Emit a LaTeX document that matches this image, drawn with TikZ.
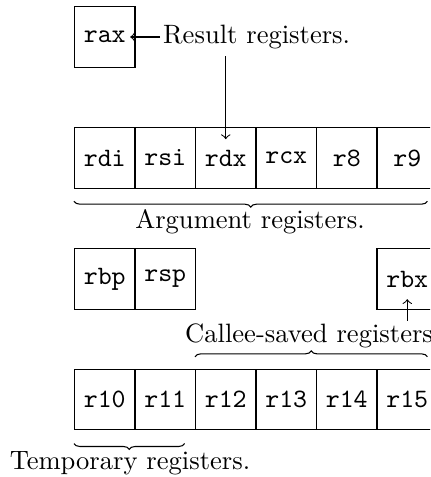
\documentclass[tikz,border=0pt]{standalone}
\usetikzlibrary{decorations.pathreplacing}
\begin{document}
\begin{tikzpicture}[x=0.013228cm, y=-0.013228cm,
  regbox/.style={draw, minimum width=0.8cm, minimum height=0.8cm, inner sep=0pt, font=\ttfamily},
  lbl/.style={inner xsep=1pt, inner ysep=1pt},
  brc/.style={decorate, decoration={brace, amplitude=2.2pt}},
  brcm/.style={decorate, decoration={brace, amplitude=2.2pt, mirror}}]
\useasboundingbox (0,0) rectangle (430,477);
\clip (0,0) rectangle (430,477);
% row 1
\node[regbox] (rax) at (104.75,37) {rax};
% row 2
\node[regbox] (rdi) at (104.75,158) {rdi};
\node[regbox] (rsi) at (165.25,158) {rsi};
\node[regbox] (rdx) at (225.75,158) {rdx};
\node[regbox] (rcx) at (286.25,158) {rcx};
\node[regbox] (r8)  at (346.75,158) {r8};
\node[regbox] (r9)  at (407.25,158) {r9};
% row 3
\node[regbox] (rbp) at (104.75,279) {rbp};
\node[regbox] (rsp) at (165.25,279) {rsp};
\node[regbox] (rbx) at (407.25,279) {rbx};
% row 4
\node[regbox] (r10) at (104.75,399.5) {r10};
\node[regbox] (r11) at (165.25,399.5) {r11};
\node[regbox] (r12) at (225.75,399.5) {r12};
\node[regbox] (r13) at (286.25,399.5) {r13};
\node[regbox] (r14) at (346.75,399.5) {r14};
\node[regbox] (r15) at (407.25,399.5) {r15};
% labels
\node[lbl, inner ysep=2.5pt, anchor=west] (res) at (160,37) {Result registers.};
\draw[->] (res.west) -- ([xshift=-2pt]rax.east);
\draw[->] (res.south -| rdx.north) -- ([yshift=-4.5pt]rdx.north);
\draw[brcm] ([yshift=-4.7pt]rdi.south west) -- ([xshift=-4pt,yshift=-4.7pt]r9.south east);
\node[lbl, anchor=base] (arg) at (250,229) {Argument registers.};
\node[lbl, anchor=west] (cal) at (182,336) {Callee-saved registers};
\draw[->] (cal.north -| rbx.south) -- ([yshift=4pt]rbx.south);
\draw[brc] ([yshift=4.5pt]r12.north west) -- ([xshift=-4pt,yshift=4.5pt]r15.north east);
\draw[brcm] ([yshift=-5pt]r10.south west) -- ([xshift=-4.3pt,yshift=-5pt]r11.south east);
\node[lbl, anchor=base] (tmp) at (130,469.5) {Temporary registers.};
\end{tikzpicture}
\end{document}
